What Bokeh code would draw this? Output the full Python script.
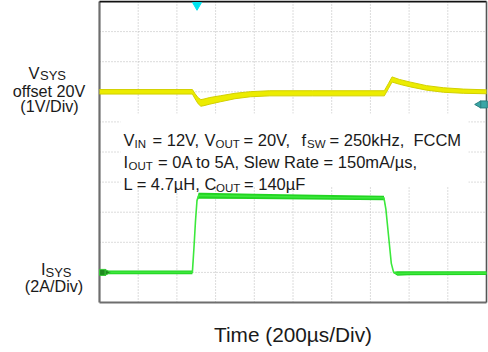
from bokeh.plotting import figure
from bokeh.models import Label, BoxAnnotation, Range1d
from bokeh.embed import file_html
from bokeh.resources import INLINE
import numpy as np

# ---- data (time in divisions of 200us, VSYS offset in V, ISYS in A) ----
t_vsys = [0.0, 2.40, 2.47, 2.55, 2.62, 2.70, 2.85, 3.13, 3.50, 3.90, 4.40, 5.50,
          7.36, 7.47, 7.56, 7.75, 8.04, 8.45, 8.89, 9.40, 10.0]
v_vsys = [0.0, 0.0, -0.15, -0.30, -0.37, -0.35, -0.30, -0.23, -0.14, -0.08, -0.05, -0.05,
          -0.05, 0.20, 0.41, 0.33, 0.24, 0.13, 0.06, 0.02, 0.0]
vsys_ripple = [0.15, 0.15, 0.17, 0.20, 0.22, 0.22, 0.22, 0.20, 0.18, 0.17, 0.17, 0.17,
               0.17, 0.17, 0.17, 0.16, 0.16, 0.15, 0.15, 0.14, 0.13]

t_isys = [0.0, 2.40, 2.44, 2.48, 2.52, 2.56, 2.65, 4.0, 6.0, 7.35, 7.40, 7.47, 7.54,
          7.60, 7.70, 8.0, 10.0]
i_isys = [0.0, 0.0, 1.6, 3.4, 4.8, 5.1, 5.1, 5.05, 4.98, 4.95, 4.2, 2.4, 0.6,
          0.0, -0.08, -0.06, -0.05]
isys_ripple = [0.24, 0.24, 0.0, 0.0, 0.1, 0.4, 0.4, 0.36, 0.32, 0.3, 0.0, 0.0, 0.0,
               0.1, 0.3, 0.26, 0.24]

divisions = list(range(1, 10))   # scope graticule lines
vsys_offset_div = 7.0     # VSYS reference (20 V) position, divisions
vsys_scale = 1.0          # V / div
isys_offset_div = 1.0     # ISYS zero position, divisions
isys_scale = 2.0          # A / div
trigger_time = 2.52
trigger_level_div = 6.58

# ---- pixel <-> division mapping of the scope screen ----
X0, XS = 99.0, 38.7      # left edge px, px per division
Y0, YS = 302.0, 30.1     # bottom edge px, px per division
W, H = 488, 352


def dx(px):
    return (px - X0) / XS


def dy(py):
    return (Y0 - py) / YS


p = figure(width=W, height=H, output_backend="svg", toolbar_location=None,
           x_range=Range1d(dx(0), dx(W)), y_range=Range1d(dy(H), dy(0)),
           min_border=0)
p.xaxis.visible = False
p.yaxis.visible = False
p.grid.visible = False
p.outline_line_color = None
p.background_fill_color = "white"
p.border_fill_color = "white"

# graticule
n = len(divisions)
p.segment(x0=divisions, y0=[0] * n, x1=divisions, y1=[10] * n,
          line_color="#b8b8b8", line_dash="1 2", line_width=1)
p.segment(x0=[0] * n, y0=divisions, x1=[10] * n, y1=divisions,
          line_color="#b8b8b8", line_dash="1 2", line_width=1)

# frame
p.segment(x0=[0, 0], y0=[0, 0], x1=[0, 10], y1=[10, 0], line_color="#6e6e6e", line_width=2.2)
p.segment(x0=[0], y0=[10], x1=[10], y1=[10], line_color="#111111", line_width=2)
p.segment(x0=[10], y0=[0], x1=[10], y1=[10], line_color="#555555", line_width=1.6)

# ---- traces ----
yv = np.array(v_vsys) / vsys_scale + vsys_offset_div
rv = np.array(vsys_ripple) / vsys_scale / 2
p.varea(x=t_vsys, y1=yv - rv, y2=yv + rv, fill_color="#ecec00")
p.line(t_vsys, yv + rv, line_color="#d2d000", line_width=1)
p.line(t_vsys, yv - rv, line_color="#d2d000", line_width=1)

yi = np.array(i_isys) / isys_scale + isys_offset_div
ri = np.array(isys_ripple) / isys_scale / 2
p.varea(x=t_isys, y1=yi - ri, y2=yi + ri, fill_color="#22d422")
p.line(t_isys, yi, line_color="#3ce83c", line_width=1.6)

# markers
p.scatter([trigger_time], [9.88], marker="inverted_triangle", size=9,
          fill_color="#00e4f0", line_color="#00e4f0")
p.scatter([9.93], [trigger_level_div], marker="square", size=7,
          fill_color="#3aa6a6", line_color="#2a7f7f")
p.scatter([9.80], [trigger_level_div], marker="triangle", angle=np.pi / 2, size=7,
          fill_color="#3aa6a6", line_color="#2a7f7f")
p.scatter([0.08], [isys_offset_div], marker="square", size=6,
          fill_color="#1f8a1f", line_color="#36c936")
p.scatter([0.19], [isys_offset_div], marker="triangle", angle=-np.pi / 2, size=6,
          fill_color="#1f8a1f", line_color="#36c936")

# ---- text ----
FONT = "Liberation Sans"


def txt(px, py, s, size=16, align="left", color="#1a1a1a"):
    p.add_layout(Label(x=dx(px), y=dy(py), text=s, text_font=FONT,
                       text_font_size=f"{size}px", text_align=align,
                       text_baseline="alphabetic", text_color=color))


p.add_layout(BoxAnnotation(left=dx(120), right=dx(468), bottom=dy(186), top=dy(113),
                           fill_color="white", fill_alpha=1.0, line_color=None))

M, S = 16.5, 11.5
NB = "\u00a0"
# line 1
txt(123, 139.5, "V", M); txt(134, 143.5, "IN", S)
txt(152, 139.5, "= 12V,", M)
txt(204, 139.5, "V", M); txt(215, 143.5, "OUT", S)
txt(243, 139.5, "= 20V,", M)
txt(301, 139.5, "f", M); txt(306.5, 143.5, "SW", S)
txt(329, 139.5, "= 250kHz," + NB + " FCCM", M)
# line 2
txt(123, 161.5, "I", M); txt(128, 165.5, "OUT", S)
txt(157.5, 161.5, "= 0A to 5A, Slew Rate = 150mA/µs,", M)
# line 3
txt(123, 183, "L = 4.7µH,", M)
txt(204, 183, "C", M); txt(215.5, 187, "OUT", S)
txt(243.5, 183, "= 140µF", M)

# left labels
txt(28, 72, "V", 16.5); txt(39.5, 74.5, "SYS", 13)
txt(48.5, 90, "offset 20V", 16.2, "center")
txt(49, 105.5, "(1V/Div)", 16.2, "center")
txt(40.5, 268, "I", 16.5); txt(45, 271.5, "SYS", 13)
txt(53.5, 285, "(2A/Div)", 16.2, "center")

# x title
txt(292.5, 333.5, "Time (200µs/Div)", 20.8, "center")

open("out.html", "w").write(file_html(p, INLINE))
